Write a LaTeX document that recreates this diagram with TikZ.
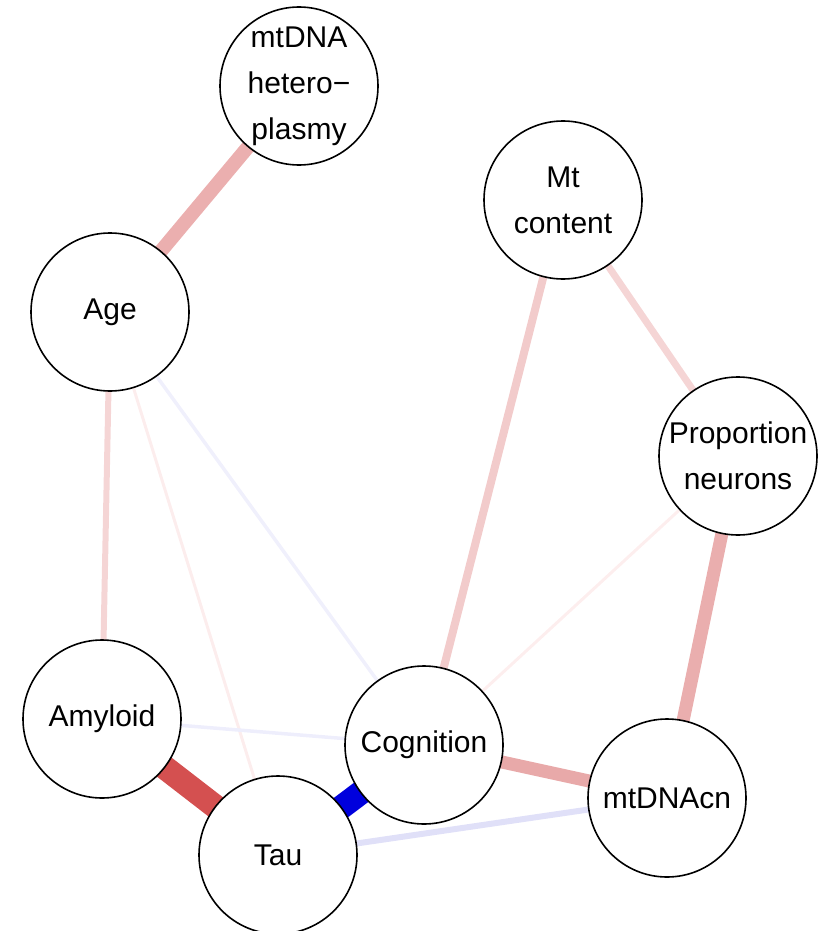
\documentclass[tikz,border=0pt]{standalone}
\usepackage{fontspec}
\setmainfont{Liberation Sans}
\usetikzlibrary{backgrounds}
\definecolor{cHA}{HTML}{EBAFAF}
\definecolor{cAT}{HTML}{D45050}
\definecolor{cTC}{HTML}{0000DD}
\definecolor{cCM}{HTML}{E8A9A9}
\definecolor{cTM}{HTML}{E0E0F8}
\definecolor{cMC}{HTML}{F2CBCB}
\definecolor{cMP}{HTML}{F5D5D5}
\definecolor{cPM}{HTML}{EAAEAE}
\definecolor{cAA}{HTML}{F5D5D5}
\definecolor{cATau}{HTML}{FCEDED}
\definecolor{cAC}{HTML}{F0F0FC}
\definecolor{cPC}{HTML}{FDEEEE}
\definecolor{cAmC}{HTML}{EEEEFC}
\tikzset{
  vnode/.style={circle, draw=black, line width=1.6pt, fill=white, minimum size=158pt, inner sep=0pt,
    align=center, font=\fontsize{30}{46}\selectfont},
  edgeline/.style={line cap=butt}
}
\begin{document}
\begin{tikzpicture}[x=1pt,y=-1pt]
\useasboundingbox (0,0) rectangle (821,931);
\node[vnode] (het) at (299,86) {mtDNA\\hetero\textminus\\plasmy};
\node[vnode] (mt) at (563,200) {Mt\\content};
\node[vnode] (age) at (110,312) {Age};
\node[vnode] (prop) at (738,456) {Proportion\\neurons};
\node[vnode] (amy) at (102,719) {Amyloid};
\node[vnode] (cog) at (424,745) {Cognition};
\node[vnode] (cn) at (667,798) {mtDNAcn};
\node[vnode] (tau) at (278,855) {Tau};
\begin{scope}[on background layer]
\draw[edgeline, cHA, line width=14pt] (het.center) -- (age.center);
\draw[edgeline, cAT, line width=24pt] (amy.center) -- (tau.center);
\draw[edgeline, cTC, line width=24pt] (tau.center) -- (cog.center);
\draw[edgeline, cCM, line width=13pt] (cog.center) -- (cn.center);
\draw[edgeline, cTM, line width=6pt] (tau.center) -- (cn.center);
\draw[edgeline, cMC, line width=8pt] (mt.center) -- (cog.center);
\draw[edgeline, cMP, line width=7pt] (mt.center) -- (prop.center);
\draw[edgeline, cPM, line width=13pt] (prop.center) -- (cn.center);
\draw[edgeline, cAA, line width=6pt] (age.center) -- (amy.center);
\draw[edgeline, cATau, line width=3pt] (age.center) -- (tau.center);
\draw[edgeline, cAC, line width=3.5pt] (age.center) -- (cog.center);
\draw[edgeline, cPC, line width=3pt] (prop.center) -- (cog.center);
\draw[edgeline, cAmC, line width=3.5pt] (amy.center) -- (cog.center);
\end{scope}
\end{tikzpicture}
\end{document}
